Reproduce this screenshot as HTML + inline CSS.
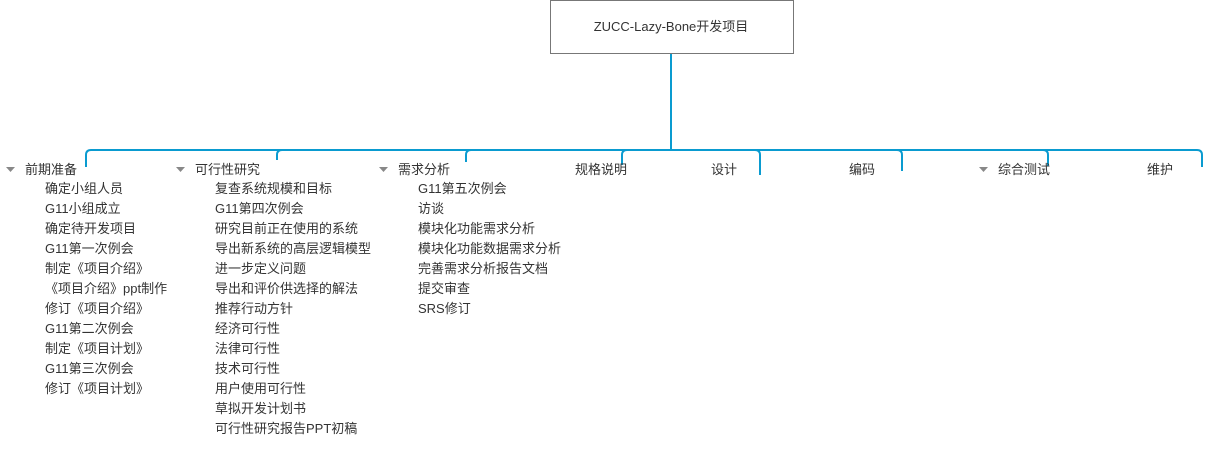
<!DOCTYPE html>
<html><head><meta charset="utf-8"><style>
body{margin:0;background:#fff;width:1206px;height:461px;overflow:hidden}
svg text{font-family:"Liberation Sans","Noto Sans CJK SC",sans-serif;font-size:13px;fill:#333}
</style></head><body>
<svg width="1206" height="461" xmlns="http://www.w3.org/2000/svg">
<rect x="550.5" y="0.5" width="243" height="53" fill="#fff" stroke="#777"/>
<text x="671" y="31" text-anchor="middle">ZUCC-Lazy-Bone开发项目</text>
<g fill="none" stroke="#0a9bd0" stroke-width="2">
<path d="M671 54V150"/>
<path d="M86 167V155Q86 150 91 150H1197Q1202 150 1202 155V167"/>
<path d="M277 160V155Q277 150 282 150"/>
<path d="M466 162V155Q466 150 471 150"/>
<path d="M622 165V155Q622 150 627 150"/>
<path d="M760 175V155Q760 150 755 150"/>
<path d="M902 171V155Q902 150 897 150"/>
<path d="M1048 166V155Q1048 150 1043 150"/>
</g>
<g fill="#888">
<path d="M6 167h9l-4.5 5z"/><path d="M176 167h9l-4.5 5z"/><path d="M379 167h9l-4.5 5z"/><path d="M979 167h9l-4.5 5z"/>
</g>
<text x="25" y="174">前期准备</text>
<text x="195" y="174">可行性研究</text>
<text x="398" y="174">需求分析</text>
<text x="575" y="174">规格说明</text>
<text x="711" y="174">设计</text>
<text x="849" y="174">编码</text>
<text x="998" y="174">综合测试</text>
<text x="1147" y="174">维护</text>
<g>
<text x="45" y="193">确定小组人员</text>
<text x="45" y="213">G11小组成立</text>
<text x="45" y="233">确定待开发项目</text>
<text x="45" y="253">G11第一次例会</text>
<text x="45" y="273">制定《项目介绍》</text>
<text x="45" y="293">《项目介绍》ppt制作</text>
<text x="45" y="313">修订《项目介绍》</text>
<text x="45" y="333">G11第二次例会</text>
<text x="45" y="353">制定《项目计划》</text>
<text x="45" y="373">G11第三次例会</text>
<text x="45" y="393">修订《项目计划》</text>
</g>
<g>
<text x="215" y="193">复查系统规模和目标</text>
<text x="215" y="213">G11第四次例会</text>
<text x="215" y="233">研究目前正在使用的系统</text>
<text x="215" y="253">导出新系统的高层逻辑模型</text>
<text x="215" y="273">进一步定义问题</text>
<text x="215" y="293">导出和评价供选择的解法</text>
<text x="215" y="313">推荐行动方针</text>
<text x="215" y="333">经济可行性</text>
<text x="215" y="353">法律可行性</text>
<text x="215" y="373">技术可行性</text>
<text x="215" y="393">用户使用可行性</text>
<text x="215" y="413">草拟开发计划书</text>
<text x="215" y="433">可行性研究报告PPT初稿</text>
</g>
<g>
<text x="418" y="193">G11第五次例会</text>
<text x="418" y="213">访谈</text>
<text x="418" y="233">模块化功能需求分析</text>
<text x="418" y="253">模块化功能数据需求分析</text>
<text x="418" y="273">完善需求分析报告文档</text>
<text x="418" y="293">提交审查</text>
<text x="418" y="313">SRS修订</text>
</g>
</svg>
</body></html>
